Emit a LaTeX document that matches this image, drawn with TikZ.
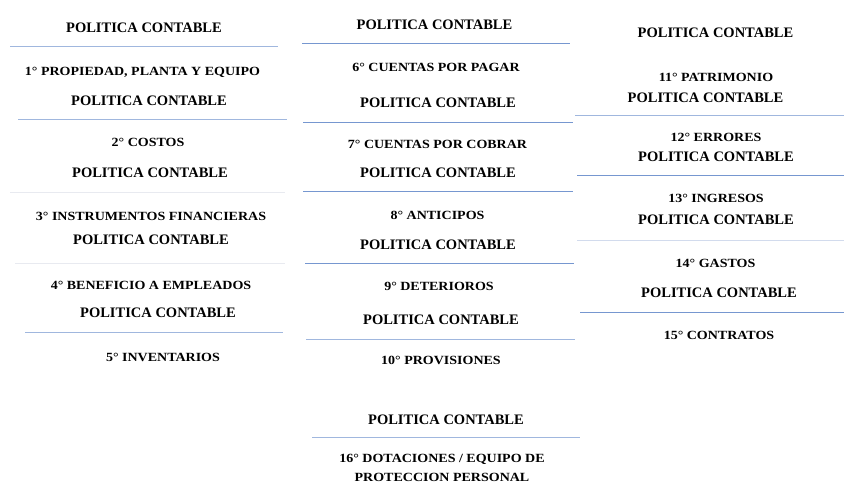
\documentclass[tikz,border=0pt]{standalone}
\usepackage{fontspec}
\setmainfont{Liberation Serif}
\newfontfamily\cardsubfont{Liberation Serif}[FakeStretch=1.12]
\usepackage{xcolor}
\usepackage{tikz}
\definecolor{ruleblue}{RGB}{118,151,208}
\definecolor{rulelight}{RGB}{160,183,222}
\definecolor{rulepale}{RGB}{210,219,237}
\definecolor{rulefaint}{RGB}{232,234,240}

\begin{document}
\begin{tikzpicture}[x=1pt,y=-1pt,
  title/.style={anchor=base,inner sep=0pt,font=\fontsize{14.5}{17}\selectfont\bfseries},
  item/.style={anchor=base,inner sep=0pt,align=center,
               font=\cardsubfont\fontsize{12.5}{19}\selectfont\bfseries},
  rule/.style={draw,line width=1pt,ruleblue},
  rulel/.style={draw,line width=1pt,rulelight},
  rulep/.style={draw,line width=1pt,rulepale},
  rulef/.style={draw,line width=1pt,rulefaint}]
\useasboundingbox (0,0) rectangle (844,492);
% first column
\node[title] (t1) at (144,32.8)  {POLITICA CONTABLE};
\node[item]  (s1) at (142.5,76)  {1° PROPIEDAD, PLANTA Y EQUIPO};
\node[title] (t2) at (149,105.8) {POLITICA CONTABLE};
\node[item]  (s2) at (148,147)   {2° COSTOS};
\node[title] (t3) at (150,177.8) {POLITICA CONTABLE};
\node[item]  (s3) at (151,220)   {3° INSTRUMENTOS FINANCIERAS};
\node[title] (t4) at (151,244.8) {POLITICA CONTABLE};
\node[item]  (s4) at (151,289)   {4° BENEFICIO A EMPLEADOS};
\node[title] (t5) at (158,317.8) {POLITICA CONTABLE};
\node[item]  (s5) at (163,361)   {5° INVENTARIOS};
\path[rulel] (10,46.5)  -- (278,46.5);
\path[rulel] (18,119.5) -- (287,119.5);
\path[rulef] (10,192.5) -- (285,192.5);
\path[rulef] (15,263.5) -- (285,263.5);
\path[rulel] (25,332.5) -- (283,332.5);
% second column
\node[title] (t6)  at (434.5,29.8) {POLITICA CONTABLE};
\node[item]  (s6)  at (436,72)     {6° CUENTAS POR PAGAR};
\node[title] (t7)  at (438,107.8)  {POLITICA CONTABLE};
\node[item]  (s7)  at (437.5,149)  {7° CUENTAS POR COBRAR};
\node[title] (t8)  at (438,177.8)  {POLITICA CONTABLE};
\node[item]  (s8)  at (437.5,219)  {8° ANTICIPOS};
\node[title] (t9)  at (438,249.8)  {POLITICA CONTABLE};
\node[item]  (s9)  at (439,290)    {9° DETERIOROS};
\node[title] (t10) at (441,324.8)  {POLITICA CONTABLE};
\node[item]  (s10) at (441,364)    {10° PROVISIONES};
\path[rule]  (302,43.5)  -- (570,43.5);
\path[rule]  (303,122.5) -- (573,122.5);
\path[rule]  (303,191.5) -- (573,191.5);
\path[rule]  (305,263.5) -- (574,263.5);
\path[rulel] (306,339.5) -- (575,339.5);
% third column
\node[title] (t11) at (715.5,37.8) {POLITICA CONTABLE};
\node[item]  (s11) at (716,82)     {11° PATRIMONIO};
\node[title] (t12) at (705.5,102.8){POLITICA CONTABLE};
\node[item]  (s12) at (716,142)    {12° ERRORES};
\node[title] (t13) at (716,161.8)  {POLITICA CONTABLE};
\node[item]  (s13) at (716,203)    {13° INGRESOS};
\node[title] (t14) at (716,224.8)  {POLITICA CONTABLE};
\node[item]  (s14) at (715.5,267)  {14° GASTOS};
\node[title] (t15) at (719,297.8)  {POLITICA CONTABLE};
\node[item]  (s15) at (719,339)    {15° CONTRATOS};
\path[rulel] (575,115.5) -- (844,115.5);
\path[rule]  (577,175.5) -- (844,175.5);
\path[rulep] (577,240.5) -- (844,240.5);
\path[rule]  (580,312.5) -- (844,312.5);
% last card, centred below
\node[title] (t16) at (446,424.8)  {POLITICA CONTABLE};
\node[item]  (s16) at (442,481)    {16° DOTACIONES / EQUIPO DE\\PROTECCION PERSONAL};
\path[rulel] (312,437.5) -- (580,437.5);
\end{tikzpicture}
\end{document}
